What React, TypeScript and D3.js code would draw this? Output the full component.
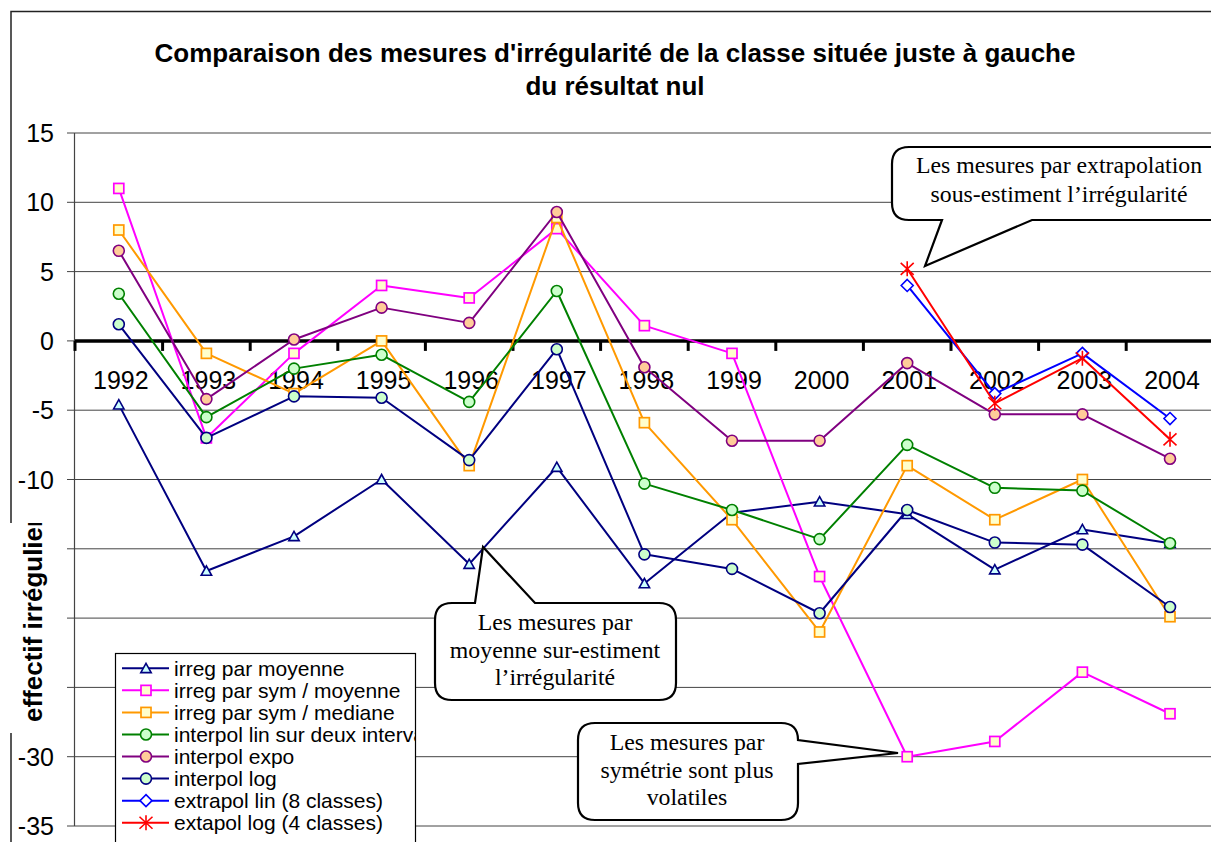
import React from 'react';
import * as d3 from 'd3';

// ---------- data ----------
const years = ['1992', '1993', '1994', '1995', '1996', '1997', '1998', '1999', '2000', '2001', '2002', '2003', '2004'];

const irregParMoyenne = [-4.6, -16.6, -14.1, -10.0, -16.1, -9.1, -17.5, -12.4, -11.6, -12.5, -16.5, -13.6, -14.6];
const irregParSymMoyenne = [11.0, -7.0, -0.9, 4.0, 3.1, 8.1, 1.1, -0.9, -17.0, -30.0, -28.9, -23.9, -26.9];
const irregParSymMediane = [8.0, -0.9, -3.8, 0.0, -9.0, 8.9, -5.9, -12.9, -21.0, -9.0, -12.9, -10.0, -19.9];
const interpolLinDeuxInterv = [3.4, -5.5, -2.0, -1.0, -4.4, 3.6, -10.3, -12.2, -14.3, -7.5, -10.6, -10.8, -14.6];
const interpolExpo = [6.5, -4.2, 0.1, 2.4, 1.3, 9.3, -1.9, -7.2, -7.2, -1.6, -5.3, -5.3, -8.5];
const interpolLog = [1.2, -7.0, -4.0, -4.1, -8.6, -0.6, -15.4, -16.45, -19.65, -12.2, -14.55, -14.7, -19.2];
const extrapolLin8 = [null, null, null, null, null, null, null, null, null, 4.0, -3.8, -0.9, -5.6];
const extapolLog4 = [null, null, null, null, null, null, null, null, null, 5.2, -4.5, -1.25, -7.1];

const seriesLabels = [
  'irreg par moyenne',
  'irreg par sym / moyenne',
  'irreg par sym / mediane',
  'interpol lin sur deux intervalles',
  'interpol expo',
  'interpol log',
  'extrapol lin (8 classes)',
  'extapol log (4 classes)',
];

const yTickValues = [15, 10, 5, 0, -5, -10, -15, -20, -25, -30, -35];
const hiddenYTicks = [-15, -20, -25];

const titleLines = [
  "Comparaison des mesures d'irrégularité de la classe située juste à gauche",
  'du résultat nul',
];
const yAxisTitle = 'effectif irrégulier';

const callout1Lines = ['Les mesures par extrapolation', 'sous-estiment l\u2019irrégularité'];
const callout2Lines = ['Les mesures par', 'moyenne sur-estiment', 'l\u2019irrégularité'];
const callout3Lines = ['Les mesures par', 'symétrie sont plus', 'volatiles'];

// ---------- styles ----------
type MarkerType = 'triangle' | 'square' | 'circle' | 'diamond' | 'star';
interface SeriesDef {
  label: string;
  values: (number | null)[];
  stroke: string;
  fill: string;
  marker: MarkerType;
}

const seriesDefs: SeriesDef[] = [
  { label: seriesLabels[0], values: irregParMoyenne, stroke: '#000080', fill: '#CCFFFF', marker: 'triangle' },
  { label: seriesLabels[1], values: irregParSymMoyenne, stroke: '#FF00FF', fill: '#FFFFCC', marker: 'square' },
  { label: seriesLabels[2], values: irregParSymMediane, stroke: '#FF9900', fill: '#FFFFCC', marker: 'square' },
  { label: seriesLabels[3], values: interpolLinDeuxInterv, stroke: '#008000', fill: '#CCFFCC', marker: 'circle' },
  { label: seriesLabels[4], values: interpolExpo, stroke: '#800080', fill: '#FFCC99', marker: 'circle' },
  { label: seriesLabels[5], values: interpolLog, stroke: '#000080', fill: '#CCFFCC', marker: 'circle' },
  { label: seriesLabels[6], values: extrapolLin8, stroke: '#0000FF', fill: '#FFFFFF', marker: 'diamond' },
  { label: seriesLabels[7], values: extapolLog4, stroke: '#FF0000', fill: 'none', marker: 'star' },
];

const W = 1211;
const H = 842;
const SANS = '"Liberation Sans", Arial, Helvetica, sans-serif';
const SERIF = '"Liberation Serif", "Times New Roman", Times, serif';

const plotLeft = 75;
const bandW = 87.6;
const x = d3.scaleBand<string>().domain(years).range([plotLeft, plotLeft + bandW * years.length]).padding(0);
const y = d3.scaleLinear().domain([-35, 15]).range([826, 133]);
const cx = (yr: string) => (x(yr) as number) + x.bandwidth() / 2;

function Marker({ type, px, py, stroke, fill }: { type: MarkerType; px: number; py: number; stroke: string; fill: string }) {
  switch (type) {
    case 'triangle':
      return (
        <path
          d={`M${px},${py - 5} L${px + 5.2},${py + 4.3} L${px - 5.2},${py + 4.3} Z`}
          fill={fill}
          stroke={stroke}
          strokeWidth={1.6}
          strokeLinejoin="miter"
        />
      );
    case 'square':
      return <rect x={px - 5} y={py - 5} width={10} height={10} fill={fill} stroke={stroke} strokeWidth={1.7} />;
    case 'circle':
      return <circle cx={px} cy={py} r={5.5} fill={fill} stroke={stroke} strokeWidth={1.6} />;
    case 'diamond':
      return (
        <path
          d={`M${px},${py - 6} L${px + 6},${py} L${px},${py + 6} L${px - 6},${py} Z`}
          fill={fill}
          stroke={stroke}
          strokeWidth={1.6}
        />
      );
    case 'star':
      return (
        <path
          d={`M${px},${py - 7.5} V${py + 7.5} M${px - 6.5},${py - 6} L${px + 6.5},${py + 6} M${px + 6.5},${py - 6} L${px - 6.5},${py + 6}`}
          stroke={stroke}
          strokeWidth={1.6}
          fill="none"
        />
      );
  }
  return null;
}

interface Pointer {
  edge: 'top' | 'right' | 'bottom';
  a: [number, number];
  tip: [number, number];
  b: [number, number];
}

function calloutPath(x0: number, y0: number, x1: number, y1: number, r: number, p: Pointer) {
  const pt = (q: [number, number]) => `L${q[0]},${q[1]}`;
  const ins = `${pt(p.a)} ${pt(p.tip)} ${pt(p.b)}`;
  let d = `M${x0 + r},${y0} `;
  if (p.edge === 'top') d += ins + ' ';
  d += `L${x1 - r},${y0} Q${x1},${y0} ${x1},${y0 + r} `;
  if (p.edge === 'right') d += ins + ' ';
  d += `L${x1},${y1 - r} Q${x1},${y1} ${x1 - r},${y1} `;
  if (p.edge === 'bottom') d += ins + ' ';
  d += `L${x0 + r},${y1} Q${x0},${y1} ${x0},${y1 - r} L${x0},${y0 + r} Q${x0},${y0} ${x0 + r},${y0} Z`;
  return d;
}

function Callout({
  box,
  pointer,
  lines,
  tx,
  ty,
  lh,
}: {
  box: [number, number, number, number];
  pointer: Pointer;
  lines: string[];
  tx: number;
  ty: number;
  lh: number;
}) {
  return (
    <g>
      <path d={calloutPath(box[0], box[1], box[2], box[3], 17, pointer)} fill="#fff" stroke="#000" strokeWidth={2.2} strokeLinejoin="miter" />
      {lines.map((l, i) => (
        <text key={i} x={tx} y={ty + i * lh} textAnchor="middle" fontFamily={SERIF} fontSize={23.8} fill="#000">
          {l}
        </text>
      ))}
    </g>
  );
}

export default function App() {
  const lineGen = d3
    .line<{ yr: string; v: number | null }>()
    .defined((d) => d.v !== null)
    .x((d) => cx(d.yr))
    .y((d) => y(d.v as number));

  const gridX1 = plotLeft + bandW * years.length;
  const legendX = 115;
  const legendY = 653;
  const legendRowY = (i: number) => 668.3 + i * 22.06;

  return (
    <svg width={W} height={H} style={{ position: 'absolute', left: 0, top: 0, background: '#fff' }}>
      <defs>
        <clipPath id="legendClip">
          <rect x={legendX} y={legendY} width={300} height={200} />
        </clipPath>
        <clipPath id="ytitleClip">
          <rect x={0} y={523} width={66} height={210} />
        </clipPath>
      </defs>
      <rect x={0} y={0} width={W} height={H} fill="#fff" />

      {/* chart border */}
      <path d={`M11,${H + 5} V11.5 H${W + 5}`} fill="none" stroke="#222" strokeWidth={1.5} />

      {/* title */}
      {titleLines.map((t, i) => (
        <text key={i} x={615} y={62 + i * 33} textAnchor="middle" fontFamily={SANS} fontWeight="bold" fontSize={26} fill="#000">
          {t}
        </text>
      ))}

      {/* gridlines */}
      {yTickValues
        .filter((v) => v !== 0)
        .map((v) => (
          <line key={v} x1={plotLeft} x2={gridX1} y1={y(v)} y2={y(v)} stroke="#444" strokeWidth={1} />
        ))}

      {/* y axis */}
      <line x1={74.5} x2={74.5} y1={y(15)} y2={y(-35)} stroke="#444" strokeWidth={1.2} />
      {yTickValues.map((v) => (
        <line key={'t' + v} x1={67} x2={75} y1={y(v)} y2={y(v)} stroke="#444" strokeWidth={1} />
      ))}
      {yTickValues
        .filter((v) => !hiddenYTicks.includes(v))
        .map((v) => (
          <text key={'l' + v} x={54} y={y(v) + 9} textAnchor="end" fontFamily={SANS} fontSize={25} fill="#000">
            {v}
          </text>
        ))}

      {/* y axis title with its white box */}
      <rect x={0} y={523} width={64} height={210} fill="#fff" />
      <g clipPath="url(#ytitleClip)">
        <text transform="translate(42,722) rotate(-90)" fontFamily={SANS} fontWeight="bold" fontSize={26} fill="#000">
          {yAxisTitle}
        </text>
      </g>

      {/* zero axis */}
      <line x1={plotLeft} x2={gridX1} y1={y(0)} y2={y(0)} stroke="#000" strokeWidth={3.5} />
      {years.map((yr, i) => (
        <line
          key={'xt' + yr}
          x1={plotLeft + bandW * (i + 1)}
          x2={plotLeft + bandW * (i + 1)}
          y1={y(0)}
          y2={y(0) + 10}
          stroke="#000"
          strokeWidth={3}
        />
      ))}
      <line x1={plotLeft} x2={plotLeft} y1={y(0)} y2={y(0) + 10} stroke="#000" strokeWidth={3} />
      {years.map((yr) => (
        <text key={'xl' + yr} x={cx(yr) + 2} y={389} textAnchor="middle" fontFamily={SANS} fontSize={25} fill="#000">
          {yr}
        </text>
      ))}

      {/* series */}
      {seriesDefs.map((s, si) => {
        const pts = years.map((yr, i) => ({ yr, v: s.values[i] }));
        return (
          <g key={si}>
            <path d={lineGen(pts) || ''} fill="none" stroke={s.stroke} strokeWidth={2} strokeLinejoin="round" />
            {pts
              .filter((p) => p.v !== null)
              .map((p) => (
                <Marker key={p.yr} type={s.marker} px={cx(p.yr)} py={y(p.v as number)} stroke={s.stroke} fill={s.fill} />
              ))}
          </g>
        );
      })}

      {/* legend */}
      <rect x={legendX + 0.5} y={legendY + 0.5} width={300} height={200} fill="#fff" stroke="#000" strokeWidth={1.2} />
      <g clipPath="url(#legendClip)">
        {seriesDefs.map((s, i) => {
          const ly = legendRowY(i);
          return (
            <g key={'lg' + i}>
              <line x1={122} x2={169} y1={ly} y2={ly} stroke={s.stroke} strokeWidth={2} />
              <Marker type={s.marker} px={146} py={ly} stroke={s.stroke} fill={s.fill} />
              <text x={174} y={ly + 7.5} fontFamily={SANS} fontSize={21} fill="#000">
                {s.label}
              </text>
            </g>
          );
        })}
      </g>

      {/* callouts */}
      <Callout
        box={[892, 147, 1228, 220]}
        pointer={{ edge: 'bottom', a: [1032, 220], tip: [925, 266], b: [942, 220] }}
        lines={callout1Lines}
        tx={1059}
        ty={173}
        lh={28.5}
      />
      <Callout
        box={[435, 603, 676, 700]}
        pointer={{ edge: 'top', a: [475, 603], tip: [483, 547], b: [535, 603] }}
        lines={callout2Lines}
        tx={555}
        ty={630}
        lh={27.5}
      />
      <Callout
        box={[578, 723, 798, 820]}
        pointer={{ edge: 'right', a: [798, 740], tip: [898, 753], b: [798, 764] }}
        lines={callout3Lines}
        tx={687}
        ty={750}
        lh={27.5}
      />
    </svg>
  );
}
